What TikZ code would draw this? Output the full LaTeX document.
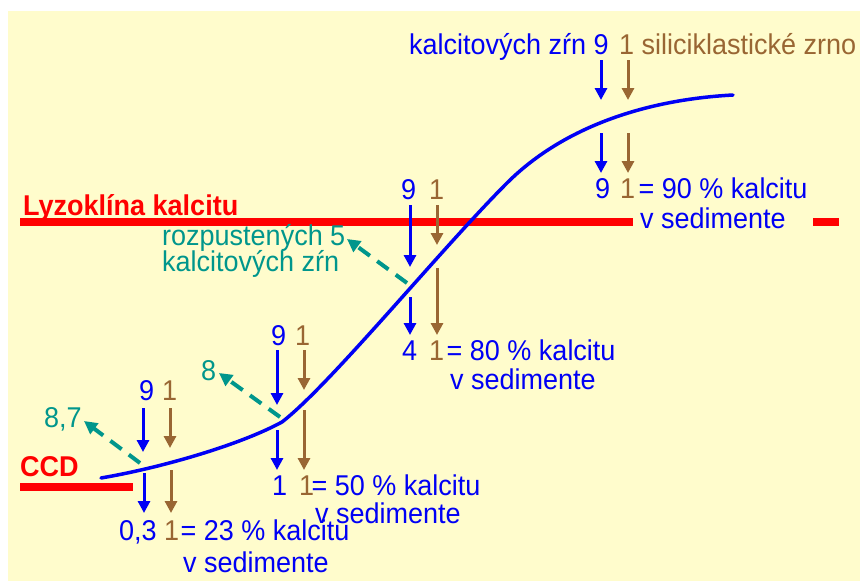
\documentclass[tikz,border=0pt]{standalone}
\usepackage{fontspec}
\usepackage{graphicx}
\setmainfont{Liberation Sans}
\usetikzlibrary{arrows.meta}
\definecolor{bgy}{RGB}{255,252,204}
\definecolor{cblue}{RGB}{0,0,245}
\definecolor{cbrown}{RGB}{153,102,51}
\definecolor{cteal}{RGB}{0,150,140}
\definecolor{cred}{RGB}{255,0,0}
\newcommand{\vs}[1]{\scalebox{1}[1.06]{#1}}
\begin{document}
\begin{tikzpicture}[x=1pt,y=-1pt,
  txt/.style={inner sep=0pt, anchor=base west, font=\fontsize{27}{31}\selectfont},
  bl/.style={txt, text=cblue},
  br/.style={txt, text=cbrown},
  tl/.style={txt, text=cteal},
  rd/.style={txt, text=cred, font=\fontsize{27}{31}\selectfont\bfseries},
  redline/.style={cred, line width=8pt},
  barr/.style={cblue, line width=3pt, -{Triangle[width=12pt,length=12pt]}},
  brarr/.style={cbrown, line width=3pt, -{Triangle[width=12pt,length=12pt]}},
  tarr/.style={cteal, line width=4pt, dash pattern=on 14pt off 9pt, -{Triangle[width=13pt,length=13pt]}},
  curvest/.style={cblue, line width=3.5pt, line join=round, line cap=round}]
\useasboundingbox (0,0) rectangle (860,581);
\fill[white] (0,0) rectangle (860,581);
\fill[bgy] (8,11) rectangle (860,581);

% red levels
\draw[redline] (20,222) -- (633,222);
\draw[redline] (813,222) -- (839,222);
\draw[redline] (20,487) -- (133,487);
\node[rd] (lyz) at (23,215) {\vs{Lyzoklína kalcitu}};
\node[rd] (ccd) at (20,476) {\vs{CCD}};

% curve
\draw[curvest] (101,478) .. controls (160,468) and (240,445) .. (282,422)
  .. controls (330,385) and (440,250) .. (507,183)
  .. controls (560,130) and (640,100) .. (733,95);

% top group
\node[bl, anchor=base east] (tk) at (609,54) {\vs{kalcitových zŕn 9}};
\node[br] (ts) at (619,54) {\vs{1 siliciklastické zrno}};
\draw[barr] (601,60) -- (601,100);
\draw[brarr] (628,60) -- (628,100);
\draw[barr] (601,133) -- (601,173);
\draw[brarr] (628,133) -- (628,173);
\node[bl] (r9a) at (595,198) {\vs{9}};
\node[br] (r1a) at (620,198) {\vs{1}};
\node[bl] (r90) at (638.5,198) {\vs{= 90 \% kalcitu}};
\node[bl] (s90) at (640,228) {\vs{v sedimente}};

% lysocline group
\node[bl] (g9b) at (401,199) {\vs{9}};
\node[br] (g1b) at (429,199) {\vs{1}};
\draw[barr] (410,205) -- (410,267);
\draw[brarr] (437,205) -- (437,245);
\draw[barr] (410,297) -- (410,335);
\draw[brarr] (437,268) -- (437,335);
\node[bl] (r4) at (402,360) {\vs{4}};
\node[br] (r1b) at (429,360) {\vs{1}};
\node[bl] (r80) at (446.5,360) {\vs{= 80 \% kalcitu}};
\node[bl] (s80) at (450,389) {\vs{v sedimente}};
\draw[tarr] (407,283) -- (347,239);
\node[tl] (t5a) at (162,245) {\vs{rozpustených 5}};
\node[tl] (t5b) at (162,271) {\vs{kalcitových zŕn}};

% middle group
\node[bl] (g9c) at (271,345) {\vs{9}};
\node[br] (g1c) at (295,345) {\vs{1}};
\draw[barr] (277,350) -- (277,405);
\draw[brarr] (304,350) -- (304,390);
\draw[barr] (277,430) -- (277,470);
\draw[brarr] (304,410) -- (304,470);
\node[bl] (r1c) at (272,495) {\vs{1}};
\node[br] (r1cc) at (299,495) {\vs{1}};
\node[bl] (r50) at (311.5,495) {\vs{= 50 \% kalcitu}};
\node[bl] (s50) at (315,523) {\vs{v sedimente}};
\draw[tarr] (280,417) -- (219,373);
\node[tl] (t8) at (201,380) {\vs{8}};

% left group
\node[bl] (g9d) at (139,400) {\vs{9}};
\node[br] (g1d) at (162,400) {\vs{1}};
\draw[barr] (143,408) -- (143,452);
\draw[brarr] (170,408) -- (170,448);
\draw[barr] (144,473) -- (144,513);
\draw[brarr] (171,470) -- (171,513);
\node[bl] (r03) at (119,540) {\vs{0,3}};
\node[br] (r1d) at (164,540) {\vs{1}};
\node[bl] (r23) at (180.5,540) {\vs{= 23 \% kalcitu}};
\node[bl] (s23) at (183,572) {\vs{v sedimente}};
\draw[tarr] (140,463) -- (84,421);
\node[tl] (t87) at (44,427) {\vs{8,7}};
\end{tikzpicture}
\end{document}
